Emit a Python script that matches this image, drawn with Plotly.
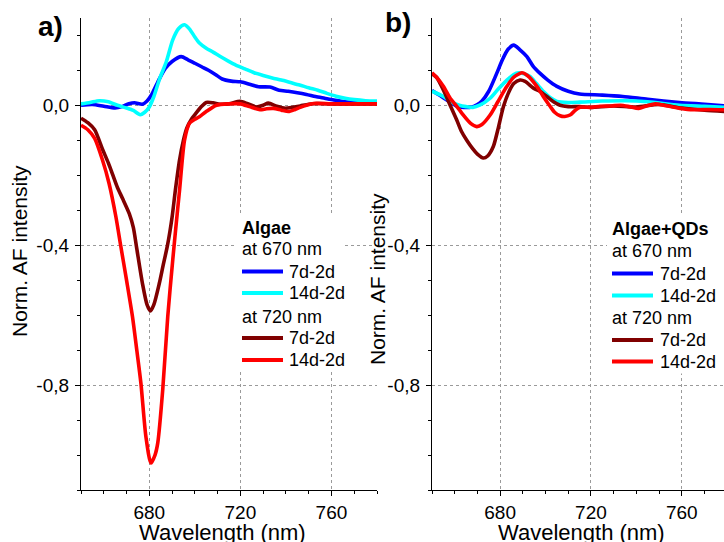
import plotly.graph_objects as go

# ---------------- data: panel a (Algae) ----------------
a_blue_x = [650, 655, 660, 665, 668, 671, 673.5, 677, 679, 681, 684, 687, 690, 694, 697, 700, 703, 706, 709,
            712, 716, 720, 724, 728, 733, 737, 741, 745, 749, 753, 757, 761, 766, 770, 775, 780]
a_blue_y = [0.0, 0.002, -0.003, -0.008, -0.004, 0.004, 0.007, 0.003, 0.012, 0.03, 0.07, 0.105, 0.125, 0.139, 0.13,
            0.12, 0.11, 0.1, 0.088, 0.075, 0.069, 0.067, 0.06, 0.053, 0.052, 0.043, 0.04, 0.036, 0.031, 0.025,
            0.02, 0.015, 0.01, 0.008, 0.006, 0.006]

a_cyan_x = [650, 654, 658, 662, 666, 670, 673, 676, 678, 680, 682, 684.5, 687.5, 690.3, 693, 695.5, 698, 700, 702,
            705, 708, 711, 714.5, 718, 722, 726, 730, 734, 738, 742, 746, 750, 754, 758, 762, 766, 770, 775, 780]
a_cyan_y = [0.004, 0.008, 0.013, 0.01, 0.0, -0.008, -0.015, -0.027, -0.02, -0.005, 0.025, 0.075, 0.125, 0.187,
            0.22, 0.23, 0.215, 0.195, 0.178, 0.163, 0.152, 0.14, 0.127, 0.115, 0.104, 0.093, 0.085, 0.078, 0.072,
            0.065, 0.058, 0.05, 0.043, 0.034, 0.026, 0.02, 0.016, 0.013, 0.012]

a_dred_x = [650, 653, 656, 659.4, 662, 664, 666, 668.2, 671.2, 673, 674.5, 677, 679, 680.5, 682, 684.4, 686, 688,
            690, 691.5, 693.3, 695, 696.5, 698.5, 700.6, 703, 705, 708, 711, 715, 719.8, 723, 727, 730, 732.3, 736,
            739.7, 743, 746.3, 750, 754, 760, 770, 780]
a_dred_y = [-0.037, -0.05, -0.07, -0.125, -0.165, -0.2, -0.235, -0.266, -0.31, -0.35, -0.41, -0.51, -0.57, -0.588,
            -0.57, -0.509, -0.46, -0.4, -0.32, -0.24, -0.156, -0.1, -0.065, -0.04, -0.022, -0.003, 0.008, 0.007,
            0.003, 0.004, 0.011, 0.005, -0.005, 0.0, 0.006, -0.003, -0.009, -0.006, -0.002, 0.003, 0.005, 0.004,
            0.004, 0.004]

a_red_x = [650, 653, 656, 659.4, 662.3, 665.3, 667.5, 670, 672.6, 674.5, 676.3, 678.5, 680.7, 682.5, 683.7, 685.9,
           688.1, 690.3, 691.5, 693.3, 695.5, 697.7, 700, 702, 705, 709.5, 715, 720, 724, 728.6, 731.5, 734.5, 738,
           741.1, 744, 746.3, 749, 752.2, 760, 770, 780]
a_red_y = [-0.057, -0.07, -0.095, -0.156, -0.223, -0.318, -0.404, -0.5, -0.604, -0.7, -0.794, -0.947, -1.023, -1.0,
           -0.966, -0.813, -0.604, -0.442, -0.36, -0.242, -0.099, -0.051, -0.04, -0.033, -0.018, 0.0, 0.004, 0.004,
           -0.004, -0.013, -0.01, -0.009, -0.014, -0.018, -0.012, -0.006, 0.0, 0.005, 0.004, 0.004, 0.004]

# ---------------- data: panel b (Algae+QDs) ----------------
b_blue_x = [650, 653, 656, 659, 661, 664, 667, 670, 672, 675, 678.5, 681, 683.5, 686, 688.5, 691.8, 694.5, 697.6,
            701, 705, 710, 715, 725, 734, 745, 759, 770, 780]
b_blue_y = [0.042, 0.03, 0.017, 0.005, -0.003, -0.006, -0.006, 0.002, 0.012, 0.04, 0.091, 0.13, 0.16, 0.172, 0.16,
            0.139, 0.112, 0.091, 0.072, 0.054, 0.04, 0.032, 0.029, 0.025, 0.017, 0.008, 0.003, -0.002]

b_cyan_x = [650, 655, 658, 662, 665, 668, 671, 675.6, 679, 683, 686, 688.1, 690.5, 693.2, 696, 699.1, 702, 705, 710,
            715, 725, 735, 745, 759, 770, 780]
b_cyan_y = [0.04, 0.025, 0.011, 0.0, -0.004, -0.006, 0.0, 0.02, 0.045, 0.072, 0.088, 0.093, 0.09, 0.082, 0.062,
            0.039, 0.022, 0.011, 0.008, 0.009, 0.012, 0.013, 0.01, 0.0, -0.003, -0.006]

b_dred_x = [650, 652, 655, 658, 660.9, 663, 665.3, 668, 670, 672.6, 674.5, 677, 679, 681.5, 684, 686, 688.8, 691,
            694.7, 697.5, 700.6, 703.5, 706.4, 710, 715, 720, 730, 740, 750, 760, 770, 780]
b_dred_y = [0.09, 0.08, 0.044, 0.0, -0.042, -0.075, -0.1, -0.125, -0.14, -0.151, -0.145, -0.118, -0.07, -0.003,
            0.04, 0.062, 0.072, 0.068, 0.049, 0.04, 0.025, 0.01, 0.0, -0.004, -0.004, -0.006, -0.002, -0.005, 0.002,
            -0.008, -0.014, -0.018]

b_red_x = [650, 652, 655, 658, 660.9, 664, 667, 669.7, 672, 675.6, 679, 683, 686, 689.6, 692, 696.2, 699, 702, 704,
           706.4, 708.5, 710.8, 713, 715.2, 720, 724, 729, 733, 737, 741, 744.5, 748.3, 752, 756, 759.3, 765, 772, 780]
b_red_y = [0.093, 0.08, 0.054, 0.02, -0.003, -0.03, -0.052, -0.061, -0.055, -0.028, 0.01, 0.054, 0.08, 0.093, 0.085,
           0.054, 0.025, -0.003, -0.02, -0.03, -0.032, -0.028, -0.015, -0.006, -0.006, -0.003, -0.002, 0.0, -0.004,
           -0.009, -0.002, 0.004, 0.0, -0.005, -0.009, -0.013, -0.012, -0.013]

series_names = ["7d-2d", "14d-2d", "7d-2d", "14d-2d"]
group_titles = ["at 670 nm", "at 720 nm"]
legend_titles = ["Algae", "Algae+QDs"]
colors = ["#0000FF", "#00FFFF", "#800000", "#FF0000"]

x_major = [680, 720, 760]
x_major_text = ["680", "720", "760"]
y_major = [-0.8, -0.4, 0.0]
y_major_text = ["-0,8", "-0,4", "0,0"]

W, H = 724, 542
FONT = "Liberation Sans, Arial, sans-serif"


def px_x(p):
    return p / W


def px_y(p):
    return 1 - p / H


fig = go.Figure()

panels = [
    ("x", "y", [(a_blue_x, a_blue_y), (a_cyan_x, a_cyan_y), (a_dred_x, a_dred_y), (a_red_x, a_red_y)]),
    ("x2", "y2", [(b_blue_x, b_blue_y), (b_cyan_x, b_cyan_y), (b_dred_x, b_dred_y), (b_red_x, b_red_y)]),
]
for xa, ya, data in panels:
    for i, (xs, ys) in enumerate(data):
        fig.add_trace(go.Scatter(
            x=xs, y=ys, mode="lines", name=series_names[i], showlegend=False,
            line=dict(color=colors[i], width=3.6, shape="spline", smoothing=0.7),
            xaxis=xa, yaxis=ya,
        ))

ydom = [px_y(490), px_y(17.8)]
axis_common = dict(
    showline=True, linecolor="black", linewidth=1.2, ticks="outside", ticklen=5, tickwidth=1.2,
    tickcolor="black", showgrid=True, gridcolor="#9a9a9a", griddash="dot", gridwidth=1,
    zeroline=False, tickfont=dict(size=19, color="black", family=FONT), mirror=False,
)
xcommon = dict(axis_common, tickmode="array", tickvals=x_major, ticktext=x_major_text,
               minor=dict(dtick=10, tick0=650, ticks="outside", ticklen=3, tickcolor="black", showgrid=False))
ycommon = dict(axis_common, tickmode="array", tickvals=y_major, ticktext=y_major_text, range=[-1.1, 0.25],
               ticklabelstandoff=2,
               minor=dict(dtick=0.1, tick0=0, ticks="outside", ticklen=3, tickcolor="black", showgrid=False))

fig.update_layout(
    width=W, height=H, margin=dict(l=0, r=0, t=0, b=0),
    paper_bgcolor="white", plot_bgcolor="rgba(0,0,0,0)",
    font=dict(family=FONT, color="black"),
    xaxis=dict(xcommon, domain=[px_x(81), px_x(377)], range=[650, 780], anchor="y"),
    yaxis=dict(ycommon, domain=ydom, anchor="x"),
    xaxis2=dict(xcommon, domain=[px_x(432), 1.0], range=[650, 778.6], anchor="y2"),
    yaxis2=dict(ycommon, domain=ydom, anchor="x2"),
    showlegend=False,
)

# ---------------- legends (drawn as key lines + real text) ----------------
LEG_FONT = 18
leg_specs = [
    (237, 343, 240, 242, 283, 287, [228, 249, 271.5, 293, 316.5, 338, 360], legend_titles[0]),
    (607, 724, 610, 612, 653, 658, [229, 251, 273.5, 295.5, 318, 340, 361.5], legend_titles[1]),
]
for (bx0, bx1, tx, kx0, kx1, itx, rows, ttl) in leg_specs:
    fig.add_shape(type="rect", xref="paper", yref="paper", x0=px_x(bx0), x1=px_x(bx1),
                  y0=px_y(rows[-1] + 12), y1=px_y(rows[0] - 15), fillcolor="white", line=dict(width=0),
                  layer="above")
    fig.add_annotation(text="<b>" + ttl + "</b>", x=px_x(tx), y=px_y(rows[0]), font=dict(size=LEG_FONT))
    fig.add_annotation(text=group_titles[0], x=px_x(tx), y=px_y(rows[1]), font=dict(size=LEG_FONT))
    fig.add_annotation(text=group_titles[1], x=px_x(tx), y=px_y(rows[4]), font=dict(size=LEG_FONT))
    for k, r in zip(range(4), [rows[2], rows[3], rows[5], rows[6]]):
        fig.add_shape(type="line", xref="paper", yref="paper", x0=px_x(kx0), x1=px_x(kx1),
                      y0=px_y(r), y1=px_y(r), line=dict(color=colors[k], width=4), layer="above")
        fig.add_annotation(text=series_names[k], x=px_x(itx), y=px_y(r), font=dict(size=LEG_FONT))

for a in fig.layout.annotations:
    a.update(xref="paper", yref="paper", xanchor="left", yanchor="middle", showarrow=False,
             font=dict(family=FONT, color="black"))

ann = [
    dict(text="<b>a)</b>", x=px_x(50), y=px_y(26), font=dict(size=28)),
    dict(text="<b>b)</b>", x=px_x(398), y=px_y(23), font=dict(size=28)),
    dict(text="Wavelength (nm)", x=px_x(222), y=px_y(532), font=dict(size=22)),
    dict(text="Wavelength (nm)", x=px_x(581), y=px_y(532), font=dict(size=22)),
    dict(text="Norm. AF intensity", x=px_x(19), y=px_y(251), font=dict(size=21), textangle=-90),
    dict(text="Norm. AF intensity", x=px_x(377), y=px_y(279), font=dict(size=21), textangle=-90),
]
for a in ann:
    a.update(xref="paper", yref="paper", xanchor="center", yanchor="middle", showarrow=False)
    a["font"].update(family=FONT, color="black")
    fig.add_annotation(**a)

fig.write_html("out.html", config={"displayModeBar": False},
               post_script="document.body.style.margin='0';document.body.style.overflow='hidden';")
